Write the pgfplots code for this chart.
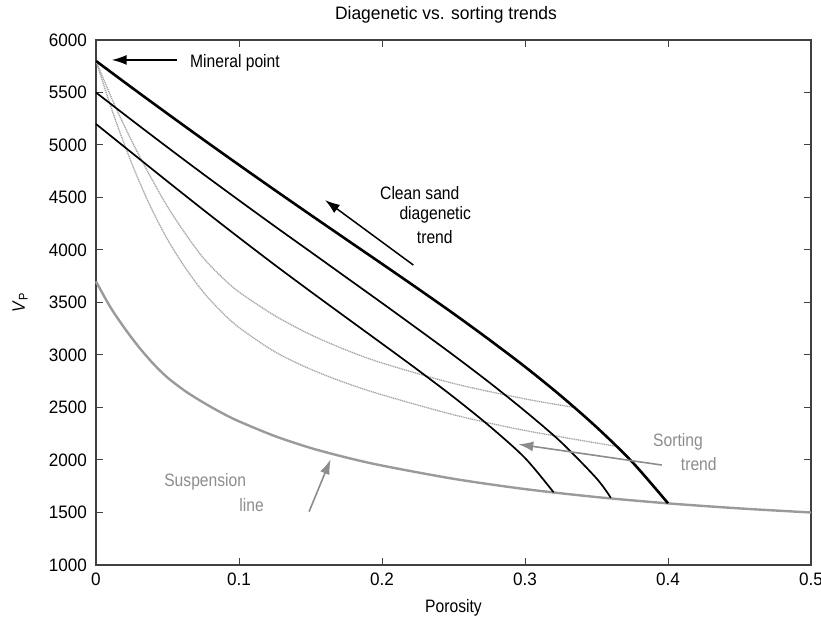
\documentclass[border=0pt]{standalone}
\usepackage{fontspec}
\setmainfont{Liberation Sans}[FakeStretch=0.87]
\newfontfamily\tickfont{Liberation Sans}[FakeStretch=0.95]
\usepackage{pgfplots}
\pgfplotsset{compat=1.18}
\usetikzlibrary{arrows.meta}
\definecolor{axgray}{HTML}{404040}
\definecolor{suspgray}{HTML}{9A9A9A}
\definecolor{dotgray}{HTML}{A5A5A5}
\definecolor{txtgray}{HTML}{8C8C8C}

\begin{document}
\begin{tikzpicture}[font=\fontsize{18}{21}\selectfont]
\begin{axis}[
  scale only axis, width=715pt, height=525pt,
  xmin=0, xmax=0.5, ymin=1000, ymax=6000,
  xtick={0,0.1,0.2,0.3,0.4,0.5}, xticklabels={0,0.1,0.2,0.3,0.4,0.5},
  ytick={1000,1500,2000,2500,3000,3500,4000,4500,5000,5500,6000},
  yticklabels={1000,1500,2000,2500,3000,3500,4000,4500,5000,5500,6000},
  tick align=inside, xtick pos=both, ytick pos=both, major tick length=7pt,
  every tick/.style={axgray, line width=1pt},
  axis line style={axgray, line width=1.3pt},
  ticklabel style={font=\tickfont\fontsize{18}{21}\selectfont, inner sep=0pt},
  xticklabel style={yshift=-8pt},
  yticklabel style={xshift=-9pt},
  clip=false,
]
% Suspension line
\addplot[suspgray, line width=2.4pt, smooth] coordinates {
(0,3700) (0.01,3457) (0.02,3255) (0.03,3075) (0.04,2918) (0.05,2785)
(0.0625,2655) (0.075,2548) (0.0875,2452) (0.1,2368) (0.125,2228) (0.15,2115)
(0.175,2024) (0.2,1947) (0.25,1821) (0.3,1723) (0.35,1647) (0.4,1587)
(0.45,1539) (0.5,1500)};
% Sorting curves (dotted)
\addplot[dotgray, line width=1.3pt, dash pattern=on 1.2pt off 0.7pt, smooth] coordinates {
(0,5800) (0.0125,5397) (0.025,5038) (0.0375,4713) (0.05,4413) (0.0625,4155)
(0.075,3925) (0.0875,3748) (0.1,3600) (0.125,3375) (0.15,3194) (0.175,3047)
(0.2,2924) (0.25,2729) (0.3,2582) (0.334,2502)};
\addplot[dotgray, line width=1.3pt, dash pattern=on 1.2pt off 0.7pt, smooth] coordinates {
(0,5800) (0.0125,5281) (0.025,4825) (0.0375,4431) (0.05,4100) (0.0625,3830)
(0.075,3600) (0.0875,3415) (0.1,3262) (0.125,3031) (0.15,2865) (0.175,2732)
(0.2,2621) (0.25,2431) (0.3,2281) (0.364,2130)};
% Diagenetic trend curves
\addplot[black, line width=2.6pt, smooth] coordinates {
(0,5800) (0.025,5547) (0.05,5298) (0.075,5052) (0.1,4810) (0.125,4571)
(0.15,4335) (0.175,4101) (0.2,3868) (0.225,3633) (0.25,3394) (0.275,3146)
(0.3,2888) (0.325,2612) (0.35,2313) (0.375,1981) (0.4,1588)};
\addplot[black, line width=1.7pt, smooth] coordinates {
(0,5500) (0.025,5237) (0.05,4978) (0.075,4723) (0.1,4473) (0.125,4226)
(0.15,3983) (0.175,3739) (0.2,3495) (0.225,3248) (0.25,2998) (0.275,2739)
(0.3,2466) (0.325,2173) (0.35,1825) (0.36,1640)};
\addplot[black, line width=1.7pt, smooth] coordinates {
(0,5200) (0.025,4926) (0.05,4653) (0.075,4383) (0.1,4118) (0.125,3858)
(0.15,3605) (0.175,3356) (0.2,3108) (0.225,2858) (0.25,2600) (0.275,2325)
(0.3,2019) (0.32,1692)};
% Annotations
\draw[-{Latex[length=15pt,width=10pt]}, line width=1.5pt] (axis cs:0.0564,5810) -- (axis cs:0.011,5810);
\node[anchor=west, inner sep=0pt] at (axis cs:0.0657,5781) {Mineral point};
\draw[-{Latex[length=15pt,width=10pt]}, line width=1.5pt] (axis cs:0.2219,3857) -- (axis cs:0.1601,4476);
\node[anchor=west, inner sep=0pt] at (axis cs:0.1986,4546) {Clean sand};
\node[anchor=west, inner sep=0pt] at (axis cs:0.2121,4333) {diagenetic};
\node[anchor=west, inner sep=0pt] at (axis cs:0.2243,4124) {trend};
\draw[txtgray, -{Latex[length=15pt,width=10pt]}, line width=1.6pt] (axis cs:0.3956,1952) -- (axis cs:0.2953,2150);
\node[txtgray, anchor=west, inner sep=0pt] at (axis cs:0.3895,2174) {Sorting};
\node[txtgray, anchor=west, inner sep=0pt] at (axis cs:0.4089,1959) {trend};
\draw[txtgray, -{Latex[length=15pt,width=10pt]}, line width=1.6pt] (axis cs:0.149,1508) -- (axis cs:0.1641,2007);
\node[txtgray, anchor=west, inner sep=0pt] at (axis cs:0.0476,1793) {Suspension};
\node[txtgray, anchor=west, inner sep=0pt] at (axis cs:0.1002,1571) {line};
\end{axis}
\node[font=\fontsize{18}{21}\selectfont] at ([shift={(-7.5pt,25pt)}]current axis.north) {\addfontfeature{FakeStretch=0.97}Diagenetic vs. sorting trends};
\node at ([shift={(0pt,-43pt)}]current axis.south) {Porosity};
\node[rotate=90] at ([shift={(-76pt,0pt)}]current axis.west) {\textit{V}\textsubscript{P}};
\pgfresetboundingbox
\path[use as bounding box] ([shift={(-96pt,-60pt)}]current axis.south west) rectangle ([shift={(10pt,40pt)}]current axis.north east);
\end{tikzpicture}
\end{document}
